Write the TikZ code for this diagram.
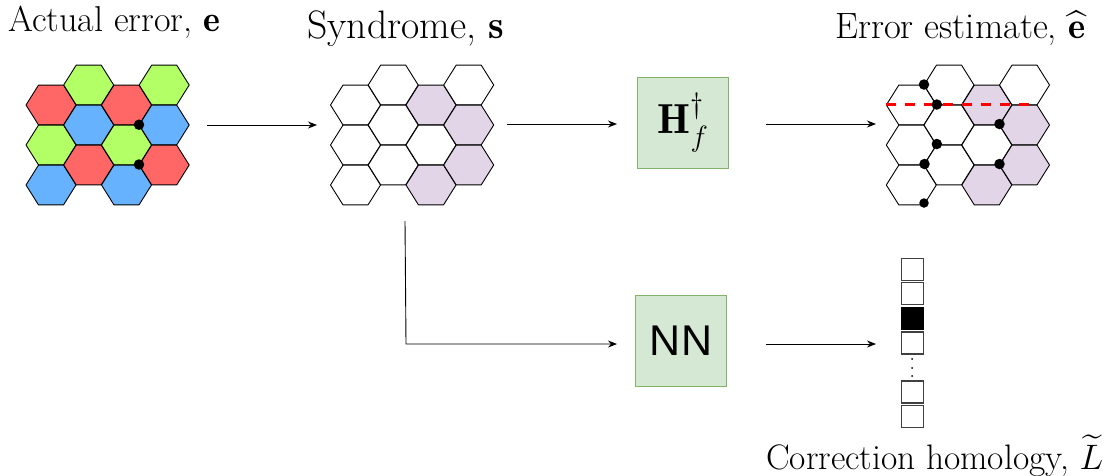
\RequirePackage{fix-cm}
\documentclass[tikz,border=0pt]{standalone}
\usepackage{amsmath,amssymb}
\usepackage{fontspec}
\newfontfamily\nnfont{Liberation Sans}
\usetikzlibrary{arrows.meta}
\definecolor{hred}{HTML}{FF6666}
\definecolor{hgreen}{HTML}{B3FF66}
\definecolor{hblue}{HTML}{66B2FF}
\definecolor{hpurple}{HTML}{E1D5E7}
\definecolor{boxfill}{HTML}{D5E8D4}
\definecolor{boxline}{HTML}{82B366}
\tikzset{
  x=1pt,y=-1pt,
  hexa/.style={draw=black,line width=0.9pt,line join=round},
  dotmark/.style={circle,fill=black,inner sep=0pt,minimum size=10.5pt},
  procbox/.style={draw=boxline,fill=boxfill,line width=1pt,minimum width=91.5pt,minimum height=91pt,inner sep=0pt},
  flow/.style={draw=black,line width=0.9pt,-{Stealth[length=9pt,width=7pt]}},
  cell/.style={draw=black!75,line width=1.2pt,fill=white,minimum width=22pt,minimum height=22pt,inner sep=0pt},
  title/.style={inner sep=0pt},
  errline/.style={draw=red,line width=2.8pt,dash pattern=on 9.5pt off 9.5pt}
}
\newcommand{\hexcell}[4]{\filldraw[hexa,fill=#4] ({#1+#2-25},#3) -- ({#1+#2-12.5},{#3-19.9}) -- ({#1+#2+12.5},{#3-19.9}) -- ({#1+#2+25},#3) -- ({#1+#2+12.5},{#3+19.9}) -- ({#1+#2-12.5},{#3+19.9}) -- cycle;}
\begin{document}
\begin{tikzpicture}
\useasboundingbox (0,0) rectangle (1107,475);
% lattice 1
\foreach \cx/\cy/\col in {51/105/hred,51/145/hgreen,51/185/hblue,
  88.7/85/hgreen,88.7/125/hblue,88.7/165/hred,
  126.5/105/hred,126.5/145/hgreen,126.5/185/hblue,
  164.2/85/hgreen,164.2/125/hblue,164.2/165/hred}{\hexcell{0}{\cx}{\cy}{\col}}
\node[dotmark] (ea) at (139,124.7) {};
\node[dotmark] (eb) at (139,164.5) {};
% lattice 2
\foreach \cx/\cy/\col in {51/105/white,51/145/white,51/185/white,
  88.7/85/white,88.7/125/white,88.7/165/white,
  126.5/105/hpurple,126.5/145/white,126.5/185/hpurple,
  164.2/85/white,164.2/125/hpurple,164.2/165/hpurple}{\hexcell{304.5}{\cx}{\cy}{\col}}
% lattice 3
\foreach \cx/\cy/\col in {51/105/white,51/145/white,51/185/white,
  88.7/85/white,88.7/125/white,88.7/165/white,
  126.5/105/hpurple,126.5/145/white,126.5/185/hpurple,
  164.2/85/white,164.2/125/hpurple,164.2/165/hpurple}{\hexcell{860.3}{\cx}{\cy}{\col}}
\coordinate (da) at (886,104.5);
\coordinate (db) at (1038,104.5);
\draw[errline] (da) -- (db);
\node[dotmark] (fa) at (924,84.5) {};
\node[dotmark] (fb) at (936.8,104.5) {};
\node[dotmark] (fc) at (936.8,144) {};
\node[dotmark] (fd) at (924.5,164) {};
\node[dotmark,minimum size=9.5pt] (fe) at (924,203) {};
\node[dotmark] (ff) at (999.5,124) {};
\node[dotmark] (fg) at (999.5,164) {};
% titles
\node[title,anchor=base west,font=\fontsize{36}{40}\selectfont] (t1) at (8,31) {Actual error, $\mathbf{e}$};
\node[title,anchor=base west,font=\fontsize{39.7}{44}\selectfont] (t2) at (307,38) {Syndrome, $\mathbf{s}$};
\node[title,anchor=base west,font=\fontsize{36.6}{40}\selectfont] (t3) at (835,38) {Error estimate, $\widehat{\mathbf{e}}$};
\node[title,anchor=base west,font=\fontsize{35.4}{40}\selectfont] (t4) at (766,469) {Correction homology, $\widetilde{L}$};
% boxes
\node[procbox,font=\fontsize{42}{46}\selectfont] (hb) at (683,122.5) {$\mathbf{H}_{f}^{\dagger}$};
\node[procbox,font=\fontsize{43}{47}\selectfont\nnfont] (nn) at (681,340.5) {NN};
% vector
\node[cell] (v1) at (912.5,269.2) {};
\node[cell] (v2) at (912.5,293.7) {};
\node[cell,fill=black,draw=black] (v3) at (912.5,318.3) {};
\node[cell] (v4) at (912.5,343) {};
\node[cell] (v5) at (912.5,392) {};
\node[cell] (v6) at (912.5,416.7) {};
\foreach \n/\py in {p/359,q/368,r/376}{\node[circle,fill=black,inner sep=0pt,minimum size=2pt] (\n) at (912,\py) {};}
% connectors
\coordinate (a1) at (207,125);\coordinate (a2) at (317,125);
\coordinate (b1) at (507,124);\coordinate (b2) at (617,124);
\coordinate (c1) at (766,124);\coordinate (c2) at (876,124);
\coordinate (d1) at (405,221);\coordinate (d2) at (406,344);
\coordinate (d3) at (617,344);
\coordinate (e1) at (766,344);\coordinate (e2) at (876,344);
\draw[flow] (a1) -- (a2);
\draw[flow] (b1) -- (b2);
\draw[flow] (c1) -- (c2);
\draw[flow] (d1) -- (d2) -- (d3);
\draw[flow] (e1) -- (e2);
\end{tikzpicture}
\end{document}
